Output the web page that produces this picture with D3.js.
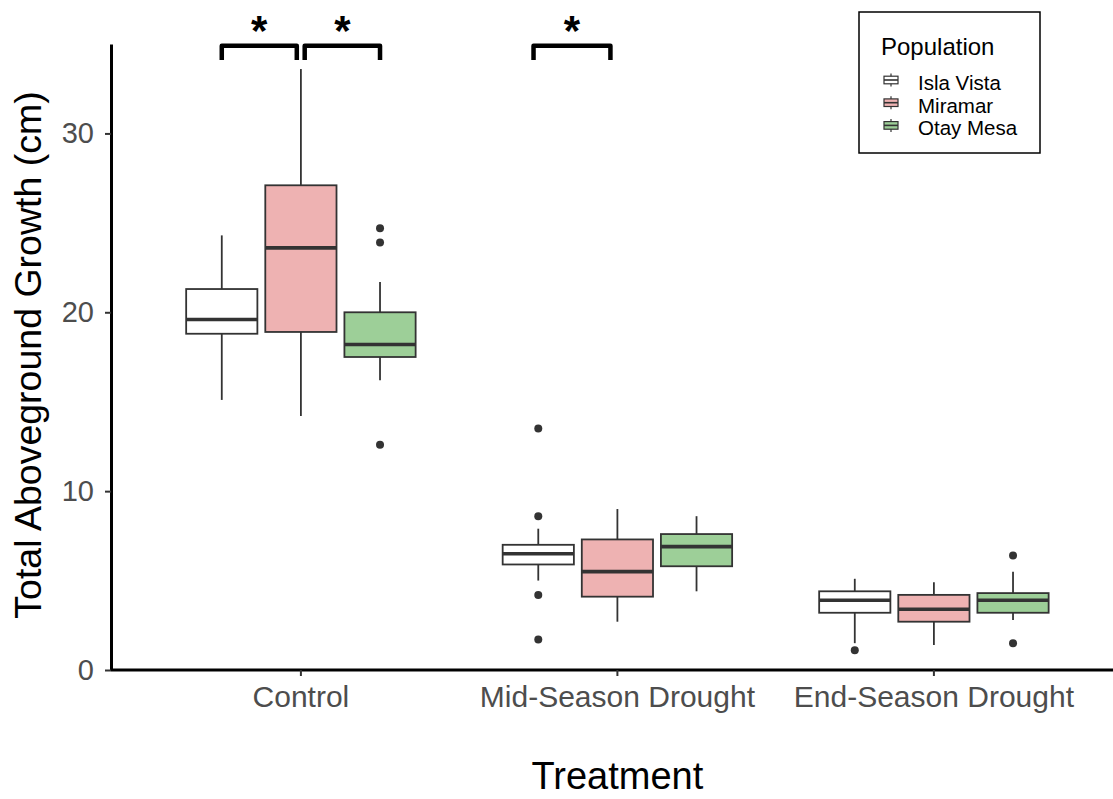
<!DOCTYPE html>
<html>
<head>
<meta charset="utf-8">
<script src="https://cdn.jsdelivr.net/npm/d3@7"></script>
<style>
  body { margin: 0; background: #fff; }
  svg { display: block; font-family: "Liberation Sans", Arial, sans-serif; }
</style>
</head>
<body>
<svg id="chart" width="1113" height="799"></svg>
<script>
// ---- DATA ----
const treatments  = ["Control", "Mid-Season Drought", "End-Season Drought"];
const populations = ["Isla Vista", "Miramar", "Otay Mesa"];
const popColors   = ["#ffffff", "#eeb2b2", "#9dcf98"];
const yTicks      = [0, 10, 20, 30];

// one row per box: [treatment, population, lowWhisker, q1, median, q3, highWhisker]
const boxStats = [
  ["Control", "Isla Vista", 15.1, 18.8, 19.6, 21.3, 24.3],
  ["Control", "Miramar",    14.2, 18.9, 23.6, 27.1, 33.6],
  ["Control", "Otay Mesa",  16.2, 17.5, 18.2, 20.0, 21.7],
  ["Mid-Season Drought", "Isla Vista", 5.0, 5.9, 6.5, 7.0, 7.9],
  ["Mid-Season Drought", "Miramar",    2.7, 4.1, 5.5, 7.3, 9.0],
  ["Mid-Season Drought", "Otay Mesa",  4.4, 5.8, 6.9, 7.6, 8.6],
  ["End-Season Drought", "Isla Vista", 1.5, 3.2, 3.9, 4.4, 5.1],
  ["End-Season Drought", "Miramar",    1.4, 2.7, 3.4, 4.2, 4.9],
  ["End-Season Drought", "Otay Mesa",  2.8, 3.2, 3.9, 4.3, 5.5]
];

// outliers: [treatment, population, value]
const outliers = [
  ["Control", "Otay Mesa", 24.7],
  ["Control", "Otay Mesa", 23.9],
  ["Control", "Otay Mesa", 12.6],
  ["Mid-Season Drought", "Isla Vista", 13.5],
  ["Mid-Season Drought", "Isla Vista", 8.6],
  ["Mid-Season Drought", "Isla Vista", 4.2],
  ["Mid-Season Drought", "Isla Vista", 1.7],
  ["End-Season Drought", "Isla Vista", 1.1],
  ["End-Season Drought", "Otay Mesa", 6.4],
  ["End-Season Drought", "Otay Mesa", 1.5]
];

// significance brackets in continuous x units (category i sits at i+1): [x1, x2, yTop, yBottom]
const brackets = [
  [0.75, 0.987, 34.9, 34.1],
  [1.012, 1.25, 34.9, 34.1],
  [1.735, 1.978, 34.9, 34.1]
];

// ---- LAYOUT ----
const svg = d3.select("#chart");
const plotLeft = 111, plotBottom = 670, plotTop = 44;
const step = 316.5;
const plotRight = plotLeft + 3.2 * step;

const x = d3.scaleBand().domain(treatments).range([plotLeft, plotRight])
  .paddingInner(0).paddingOuter(0.1);
const xLin = d3.scaleLinear().domain([0.4, 3.6]).range([plotLeft, plotRight]);
const xGroup = d3.scaleBand().domain(populations).range([0, x.bandwidth() * 0.75]);
const y = d3.scaleLinear().domain([0, 35]).range([plotBottom, plotTop]);
const color = d3.scaleOrdinal().domain(populations).range(popColors);

const boxW = xGroup.bandwidth() * 0.9;
const groupX = (t, p) => x(t) + x.bandwidth() * 0.125 + xGroup(p) + xGroup.bandwidth() / 2;

// ---- AXES ----
const xAxis = svg.append("g")
  .attr("transform", `translate(0,${plotBottom})`)
  .call(d3.axisBottom(x).tickSize(6).tickPadding(10).tickSizeOuter(0));
xAxis.select(".domain").attr("stroke", "#000").attr("stroke-width", 3).attr("d", `M${plotLeft},0H1113`);
xAxis.selectAll(".tick line").attr("stroke", "#333").attr("stroke-width", 2);
xAxis.selectAll(".tick text").attr("fill", "#4d4d4d").attr("font-size", 30);

const yAxis = svg.append("g")
  .attr("transform", `translate(${plotLeft},0)`)
  .call(d3.axisLeft(y).tickValues(yTicks).tickSize(6).tickPadding(11).tickSizeOuter(0));
yAxis.select(".domain").attr("stroke", "#000").attr("stroke-width", 3);
yAxis.selectAll(".tick line").attr("stroke", "#333").attr("stroke-width", 2);
yAxis.selectAll(".tick text").attr("fill", "#4d4d4d").attr("font-size", 29);

svg.append("text")
  .attr("x", xLin(2)).attr("y", 789)
  .attr("text-anchor", "middle").attr("font-size", 38).attr("fill", "#000")
  .text("Treatment");

svg.append("text")
  .attr("transform", `translate(41,${(plotTop + plotBottom) / 2 - 2}) rotate(-90)`)
  .attr("text-anchor", "middle").attr("font-size", 37.5).attr("fill", "#000")
  .text("Total Aboveground Growth (cm)");

// ---- BOXES ----
const boxes = svg.append("g").selectAll("g")
  .data(boxStats).enter().append("g")
  .attr("transform", d => `translate(${groupX(d[0], d[1])},0)`);

boxes.append("line") // whiskers
  .attr("x1", 0).attr("x2", 0)
  .attr("y1", d => y(d[6])).attr("y2", d => y(d[5]))
  .attr("stroke", "#333").attr("stroke-width", 1.8);
boxes.append("line")
  .attr("x1", 0).attr("x2", 0)
  .attr("y1", d => y(d[3])).attr("y2", d => y(d[2]))
  .attr("stroke", "#333").attr("stroke-width", 1.8);
boxes.append("rect")
  .attr("x", -boxW / 2).attr("width", boxW)
  .attr("y", d => y(d[5])).attr("height", d => y(d[3]) - y(d[5]))
  .attr("fill", d => color(d[1]))
  .attr("stroke", "#333").attr("stroke-width", 1.8);
boxes.append("line") // median
  .attr("x1", -boxW / 2).attr("x2", boxW / 2)
  .attr("y1", d => y(d[4])).attr("y2", d => y(d[4]))
  .attr("stroke", "#333").attr("stroke-width", 3.6);

svg.append("g").selectAll("circle")
  .data(outliers).enter().append("circle")
  .attr("cx", d => groupX(d[0], d[1]))
  .attr("cy", d => y(d[2]))
  .attr("r", 4).attr("fill", "#333");

// ---- SIGNIFICANCE BRACKETS ----
const sig = svg.append("g");
sig.selectAll("path")
  .data(brackets).enter().append("path")
  .attr("d", d => `M${xLin(d[0])},${y(d[3])}V${y(d[2])}H${xLin(d[1])}V${y(d[3])}`)
  .attr("fill", "none").attr("stroke", "#000").attr("stroke-width", 4.5)
  .attr("stroke-linejoin", "round");
sig.selectAll("text")
  .data(brackets).enter().append("text")
  .attr("x", d => xLin((d[0] + d[1]) / 2))
  .attr("y", 45)
  .attr("text-anchor", "middle").attr("font-size", 42).attr("font-weight", "bold")
  .text("*");

// ---- LEGEND ----
const legend = svg.append("g").attr("transform", "translate(859,12)");
legend.append("rect")
  .attr("width", 181).attr("height", 141)
  .attr("fill", "#fff").attr("stroke", "#000").attr("stroke-width", 1.5);
legend.append("text")
  .attr("x", 22).attr("y", 43).attr("font-size", 24).attr("fill", "#000")
  .text("Population");
const items = legend.selectAll("g.item")
  .data(populations).enter().append("g").attr("class", "item")
  .attr("transform", (d, i) => `translate(0,${68 + i * 22.7})`);
items.append("line")
  .attr("x1", 32).attr("x2", 32).attr("y1", -6.5).attr("y2", 6.5)
  .attr("stroke", "#333").attr("stroke-width", 1.2);
items.append("rect")
  .attr("x", 25).attr("y", -3.8).attr("width", 14).attr("height", 7.6)
  .attr("fill", d => color(d)).attr("stroke", "#333").attr("stroke-width", 1.2);
items.append("line")
  .attr("x1", 25).attr("x2", 39).attr("y1", 0).attr("y2", 0)
  .attr("stroke", "#333").attr("stroke-width", 1.6);
items.append("text")
  .attr("x", 59).attr("y", 10).attr("font-size", 20.5).attr("fill", "#000")
  .text(d => d);
</script>
</body>
</html>
